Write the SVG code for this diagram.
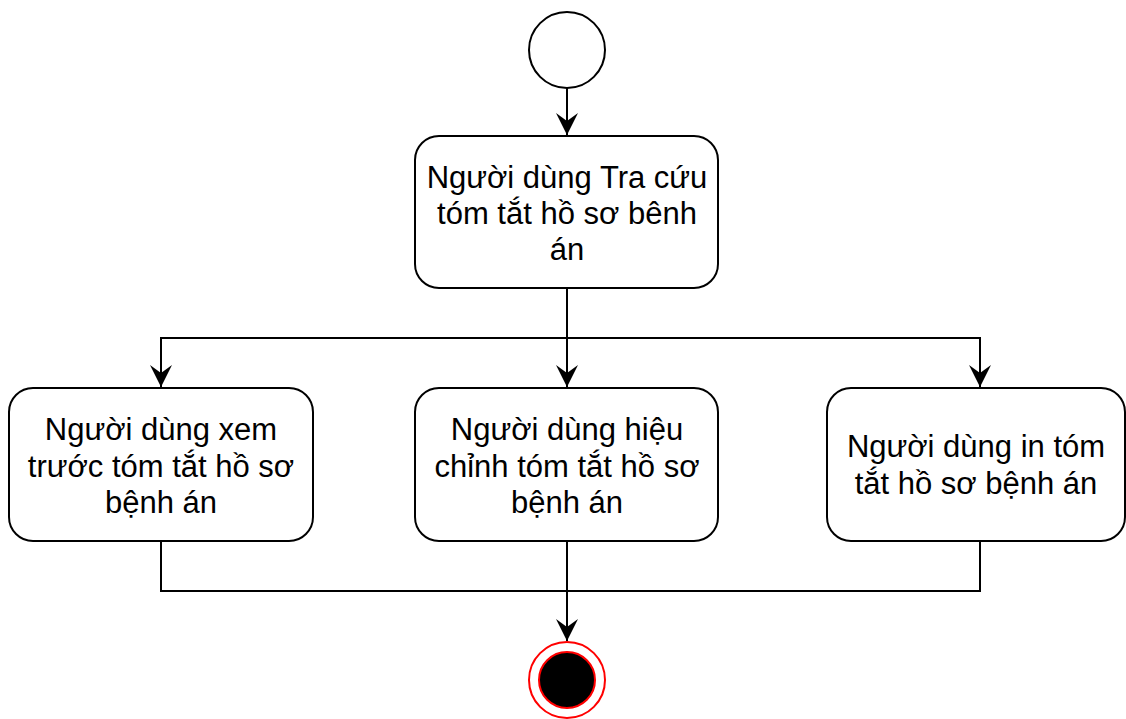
<svg xmlns="http://www.w3.org/2000/svg" width="1126" height="719" viewBox="0 0 1126 719">
<style>
.box{fill:#fff;stroke:#000;stroke-width:2}
.lbl{font-family:"Liberation Sans",Arial,sans-serif;font-size:31px;fill:#000;text-anchor:middle}
.edge{fill:none;stroke:#000;stroke-width:2}
</style>
<defs>
<marker id="arr" markerUnits="userSpaceOnUse" markerWidth="24" markerHeight="24" viewBox="0 0 24 24" refX="23" refY="12" orient="auto">
<path d="M1,1 L23,12 L1,23 L9,12 Z" fill="#000"/>
</marker>
</defs>
<rect width="1126" height="719" fill="#fff"/>
<g id="connectors">
<path class="edge" d="M567,88 V135" marker-end="url(#arr)"/>
<path class="edge" d="M567,288 V338 H161 V387" marker-end="url(#arr)"/>
<path class="edge" d="M567,338 V387" marker-end="url(#arr)"/>
<path class="edge" d="M567,338 H980 V387" marker-end="url(#arr)"/>
<path class="edge" d="M161,542 V591 H980 V542"/>
<path class="edge" d="M567,542 V641" marker-end="url(#arr)"/>
</g>
<g id="start">
<circle cx="567" cy="50" r="38" fill="#fff" stroke="#000" stroke-width="2"/>
</g>
<g id="n-tracuu">
<rect class="box" x="415" y="136" width="303" height="152" rx="24"/>
<text class="lbl" x="567" y="188">Người dùng Tra cứu</text>
<text class="lbl" x="567" y="224">tóm tắt hồ sơ bênh</text>
<text class="lbl" x="567" y="260">án</text>
</g>
<g id="n-xem">
<rect class="box" x="9" y="388" width="304" height="153" rx="24"/>
<text class="lbl" x="161" y="440">Người dùng xem</text>
<text class="lbl" x="161" y="477">trước tóm tắt hồ sơ</text>
<text class="lbl" x="161" y="513">bệnh án</text>
</g>
<g id="n-hieuchinh">
<rect class="box" x="415" y="388" width="303" height="153" rx="24"/>
<text class="lbl" x="567" y="440">Người dùng hiệu</text>
<text class="lbl" x="567" y="477">chỉnh tóm tắt hồ sơ</text>
<text class="lbl" x="567" y="513">bệnh án</text>
</g>
<g id="n-in">
<rect class="box" x="827" y="388" width="298" height="153" rx="24"/>
<text class="lbl" x="976" y="457">Người dùng in tóm</text>
<text class="lbl" x="976" y="494">tắt hồ sơ bệnh án</text>
</g>
<g id="end">
<circle cx="567" cy="680" r="38" fill="#fff" stroke="#f00" stroke-width="2"/>
<circle cx="567" cy="680" r="28" fill="#000" stroke="#f00" stroke-width="2"/>
</g>
</svg>
